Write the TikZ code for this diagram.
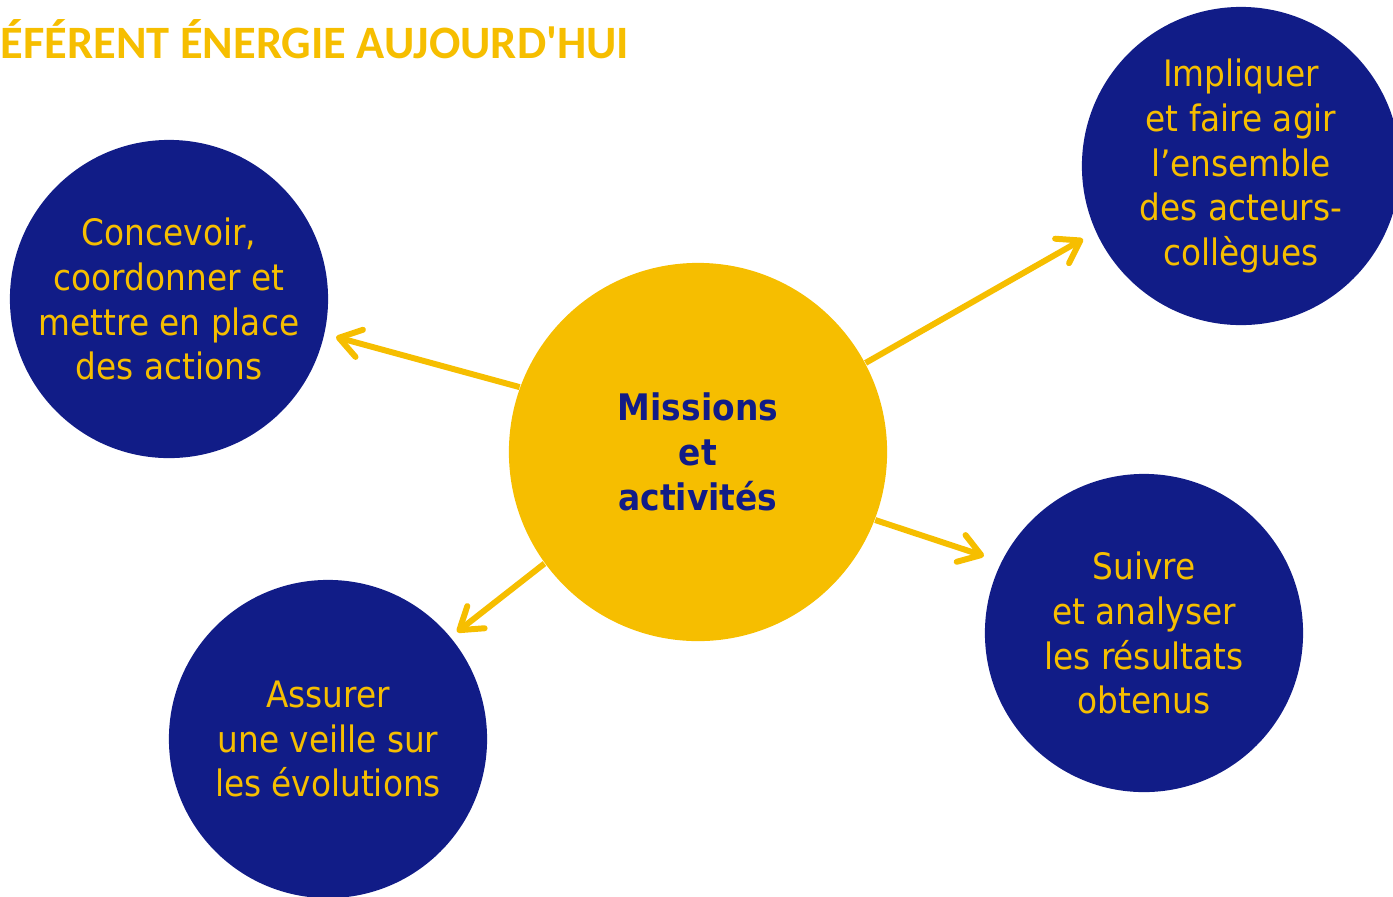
\documentclass[tikz,border=0pt]{standalone}
\usepackage{fontspec}
\setmainfont{DejaVu Sans Condensed}
\newfontfamily\titlefont{Carlito}
\usepackage{tikz}
\usetikzlibrary{arrows.meta}
\definecolor{navy}{RGB}{17,28,135}
\definecolor{gold}{RGB}{246,190,0}

\begin{document}
\begin{tikzpicture}[x=0.01cm, y=-0.01cm,
    bubble/.style={circle, fill=navy, text=gold, minimum size=3.18cm, inner sep=0pt, align=center, font=\fontsize{10.35}{12.75}\selectfont},
    hub/.style={circle, fill=gold, text=navy, minimum size=3.78cm, inner sep=0pt, align=center, font=\bfseries\fontsize{10.4}{12.75}\selectfont},
    link/.style={draw=gold, line width=1.7pt, -{Straight Barb[length=6pt,width=8pt,round]}}]
                \useasboundingbox (0,0) rectangle (1393,896);
                % title
                \node[anchor=base west, inner sep=0pt, text=gold, font=\titlefont\bfseries\fontsize{13.2}{15}\selectfont] (title) at (0,58) {ÉFÉRENT ÉNERGIE AUJOURD'HUI};
                % circles
                \node[hub] (mid) at (698,452) {Missions\\et\\activités};
                \node[bubble] (plan) at (169,299) {Concevoir,\\coordonner et\\mettre en place\\des actions};
                \node[bubble] (team) at (1241,166) {Impliquer\\et faire agir\\l’ensemble\\des acteurs-\\collègues};
                \node[bubble] (watch) at (328,739) {Assurer\\une veille sur\\les évolutions};
                \node[bubble] (track) at (1144,633) {Suivre\\et analyser\\les résultats\\obtenus};
                % arrows
                \coordinate (planTip) at (336,337);
                \coordinate (teamTip) at (1083,239);
                \coordinate (watchTip) at (457,632);
                \coordinate (trackTip) at (984,556);
                \draw[link] (mid.160) -- (planTip);
                \draw[link] (mid.28) -- (teamTip);
                \draw[link] (mid.216) -- (watchTip);
                \draw[link] (mid.-21) -- (trackTip);
            \end{tikzpicture}
\end{document}
